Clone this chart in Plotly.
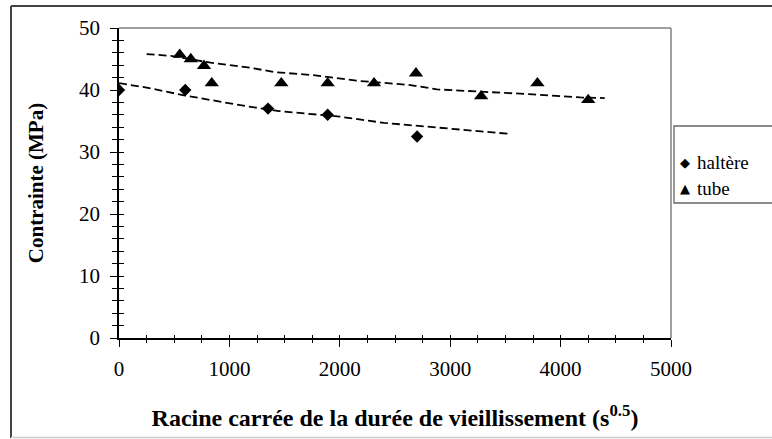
import plotly.graph_objects as go

# Mesures : racine carrée de la durée de vieillissement (s^0.5) et contrainte (MPa)
halt_x = [0, 600, 1350, 1890, 2700]
halt_y = [40, 40, 37, 36, 32.5]

tube_x = [550, 650, 770, 840, 1470, 1890, 2310, 2690, 3280, 3790, 4250]
tube_y = [45.7, 45.0, 43.9, 41.1, 41.1, 41.1, 41.1, 42.7, 39.0, 41.1, 38.4]

# Courbes de tendance (tracées en tirets)
halt_trend_x = [0, 250, 600, 850, 1150, 1450, 2000, 2400, 2850, 3400, 3550]
halt_trend_y = [41.1, 40.4, 39.1, 38.3, 37.4, 36.6, 35.7, 34.7, 34.0, 33.2, 32.9]

tube_trend_x = [250, 470, 830, 1190, 1400, 1760, 2150, 2640, 2880, 3360, 3750, 4180, 4400]
tube_trend_y = [45.8, 45.5, 44.4, 43.6, 42.9, 42.4, 41.5, 40.8, 40.1, 39.7, 39.3, 38.8, 38.7]

x_ticks = [0, 1000, 2000, 3000, 4000, 5000]
y_ticks = [0, 10, 20, 30, 40, 50]

series_names = ["haltère", "tube"]

FONT = "Liberation Serif, Times New Roman, serif"
W, H = 772, 439
ML, MR, MT, MB = 119, 101, 28, 101
PW, PH = W - ML - MR, H - MT - MB


def px(xp):
    return (xp - ML) / PW


def py(yp):
    return (H - MB - yp) / PH


fig = go.Figure()

dash_line = dict(color="black", width=1.8, dash="8px,4px")
fig.add_trace(go.Scatter(x=halt_trend_x, y=halt_trend_y, mode="lines", line=dash_line,
                         showlegend=False, hoverinfo="skip"))
fig.add_trace(go.Scatter(x=tube_trend_x, y=tube_trend_y, mode="lines", line=dash_line,
                         showlegend=False, hoverinfo="skip"))
fig.add_trace(go.Scatter(x=halt_x, y=halt_y, mode="markers", name=series_names[0],
                         marker=dict(symbol="diamond", size=9.5, color="black"), showlegend=False))
fig.add_trace(go.Scatter(x=tube_x, y=tube_y, mode="markers", name=series_names[1],
                         marker=dict(symbol="triangle-up", size=12.5, color="black"), showlegend=False))
# traces vides pour activer les axes superposés (graduations intérieures)
fig.add_trace(go.Scatter(x=[], y=[], xaxis="x2", yaxis="y", showlegend=False, hoverinfo="skip"))
fig.add_trace(go.Scatter(x=[], y=[], xaxis="x", yaxis="y2", showlegend=False, hoverinfo="skip"))

tick_font = dict(family=FONT, size=21, color="black")

fig.update_layout(
    width=W, height=H,
    margin=dict(l=ML, r=MR, t=MT, b=MB),
    paper_bgcolor="white", plot_bgcolor="white",
    font=dict(family=FONT, color="black"),
    xaxis=dict(range=[0, 5000], tickvals=x_ticks, ticktext=[str(v) for v in x_ticks],
               showgrid=False, zeroline=False, showline=True, linecolor="black", linewidth=1.5,
               ticks="outside", ticklen=7, tickwidth=1.3, tickcolor="black",
               minor=dict(dtick=250, ticks="outside", ticklen=3.5, tickwidth=1.3, tickcolor="black", showgrid=False),
               tickfont=tick_font, ticklabelstandoff=4,
               title=dict(text="<b>Racine carrée de la durée de vieillissement (s<sup>0.5</sup>)</b>",
                          font=dict(family=FONT, size=24, color="black"), standoff=29)),
    yaxis=dict(range=[0, 50], tickvals=y_ticks, ticktext=[str(v) for v in y_ticks],
               showgrid=False, zeroline=False, showline=True, linecolor="black", linewidth=1.5,
               ticks="outside", ticklen=7, tickwidth=1.3, tickcolor="black",
               minor=dict(dtick=2, ticks="outside", ticklen=5, tickwidth=1.3, tickcolor="black", showgrid=False),
               tickfont=tick_font, ticklabelstandoff=6,
               title=dict(text="<b>Contrainte (MPa)</b>",
                          font=dict(family=FONT, size=21, color="black"), standoff=30)),
    xaxis2=dict(range=[0, 5000], overlaying="x", anchor="y", side="bottom",
                tickvals=x_ticks, showticklabels=False, showgrid=False, zeroline=False, showline=False,
                ticks="inside", ticklen=3, tickwidth=1.3, tickcolor="black",
                minor=dict(dtick=250, ticks="inside", ticklen=3.5, tickwidth=1.3, tickcolor="black", showgrid=False)),
    yaxis2=dict(range=[0, 50], overlaying="y", anchor="x", side="left",
                tickvals=y_ticks, showticklabels=False, showgrid=False, zeroline=False, showline=False,
                ticks="inside", ticklen=5, tickwidth=1.3, tickcolor="black",
                minor=dict(dtick=2, ticks="inside", ticklen=5, tickwidth=1.3, tickcolor="black", showgrid=False)),
    showlegend=False,
)

shapes = [
    # cadre de la zone de tracé (haut et droite)
    dict(type="line", xref="x domain", yref="y domain", x0=0, x1=1, y0=1, y1=1,
         line=dict(color="#808080", width=1.5)),
    dict(type="line", xref="x domain", yref="y domain", x0=1, x1=1, y0=0, y1=1,
         line=dict(color="#808080", width=1.5)),
    # cadre de la légende
    dict(type="rect", xref="paper", yref="paper", x0=px(674), x1=px(800), y0=py(203), y1=py(126),
         line=dict(color="#666666", width=1.3), fillcolor="rgba(0,0,0,0)"),
    # cadre extérieur du graphique
    dict(type="line", xref="paper", yref="paper", x0=px(11), x1=px(800), y0=py(6), y1=py(6),
         line=dict(color="#444444", width=2)),
    dict(type="line", xref="paper", yref="paper", x0=px(11), x1=px(11), y0=py(6), y1=py(438),
         line=dict(color="#444444", width=2)),
    dict(type="line", xref="paper", yref="paper", x0=px(11), x1=px(800), y0=py(437.5), y1=py(437.5),
         line=dict(color="#cccccc", width=1.5)),
]

# légende : symbole + libellé
legend_symbols = ["◆", "▲"]
legend_rows = [163, 189]
annotations = []
for name, sym, yrow in zip(series_names, legend_symbols, legend_rows):
    annotations.append(dict(xref="paper", yref="paper", x=px(685), y=py(yrow), text=sym,
                            showarrow=False, xanchor="center", yanchor="middle",
                            font=dict(family="DejaVu Sans", size=13, color="black")))
    annotations.append(dict(xref="paper", yref="paper", x=px(695), y=py(yrow), text=name,
                            showarrow=False, xanchor="left", yanchor="middle",
                            font=dict(family=FONT, size=19, color="black")))

fig.update_layout(shapes=shapes, annotations=annotations)

fig.write_html("out.html")
